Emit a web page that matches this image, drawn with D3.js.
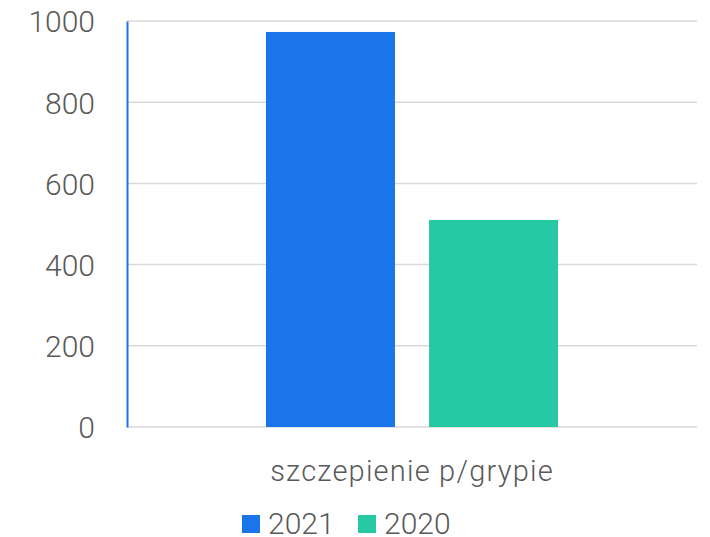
<!DOCTYPE html>
<html>
<head>
<meta charset="utf-8">
<script src="https://cdn.jsdelivr.net/npm/d3@7"></script>
<style>
  body { margin: 0; background: #fff; }
  text { font-family: Roboto, "DejaVu Sans", sans-serif; font-weight: 300; fill: #595959; }
</style>
</head>
<body>
<svg id="chart" width="710" height="537"></svg>
<script>
// data
const categories = ["szczepienie p/grypie"];
const seriesNames = ["2021", "2020"];
const values2021 = [973];
const values2020 = [510];
const yTicks = [0, 200, 400, 600, 800, 1000];
const colors = ["#1a75eb", "#26c9a4"];

const svg = d3.select("#chart");
const plotLeft = 127, plotRight = 697, plotTop = 21, plotBottom = 427;

const y = d3.scaleLinear().domain([0, 1000]).range([plotBottom, plotTop]);
const x0 = d3.scaleBand().domain(categories).range([plotLeft, plotRight]).paddingOuter(0.476).paddingInner(0);
const x1 = d3.scaleBand().domain(seriesNames).range([0, x0.bandwidth()]).paddingInner(0.209).paddingOuter(0);
const color = d3.scaleOrdinal().domain(seriesNames).range(colors);

// gridlines
svg.append("g")
  .selectAll("line")
  .data(yTicks)
  .enter()
  .append("line")
  .attr("x1", plotLeft)
  .attr("x2", plotRight)
  .attr("y1", d => y(d))
  .attr("y2", d => y(d))
  .attr("stroke", "#d9d9d9")
  .attr("stroke-width", 1.5);

// y axis
const yAxis = svg.append("g")
  .attr("transform", "translate(" + plotLeft + ",0)")
  .call(d3.axisLeft(y).tickValues(yTicks).tickFormat(d3.format("d")).tickSize(0).tickPadding(32));
yAxis.select(".domain").attr("stroke", "#1a75eb").attr("stroke-width", 2);
yAxis.selectAll("text")
  .style("font-size", "30px")
  .attr("dy", "0.36em")
  .attr("fill", "#595959");

// bars
const rows = categories.map((c, i) => ({ cat: c, vals: [values2021[i], values2020[i]] }));
svg.append("g")
  .selectAll("g")
  .data(rows)
  .enter()
  .append("g")
  .attr("transform", d => "translate(" + x0(d.cat) + ",0)")
  .selectAll("rect")
  .data(d => d.vals.map((v, j) => ({ key: seriesNames[j], value: v })))
  .enter()
  .append("rect")
  .attr("x", d => x1(d.key))
  .attr("y", d => y(d.value))
  .attr("width", x1.bandwidth())
  .attr("height", d => plotBottom - y(d.value))
  .attr("fill", d => color(d.key));

// category label
svg.append("g")
  .attr("transform", "translate(0," + plotBottom + ")")
  .call(d3.axisBottom(x0).tickSize(0))
  .call(g => g.select(".domain").remove())
  .selectAll("text")
  .attr("y", 54)
  .attr("dy", 0)
  .style("font-size", "29px")
  .style("letter-spacing", "1.2px")
  .attr("fill", "#595959");

// legend
const legend = svg.append("g");
const legendX = [242, 358];
seriesNames.forEach((s, i) => {
  legend.append("rect")
    .attr("x", legendX[i])
    .attr("y", 515)
    .attr("width", 18)
    .attr("height", 18)
    .attr("fill", color(s));
  legend.append("text")
    .attr("x", legendX[i] + 26)
    .attr("y", 534)
    .style("font-size", "30px")
    .text(s);
});
</script>
</body>
</html>
